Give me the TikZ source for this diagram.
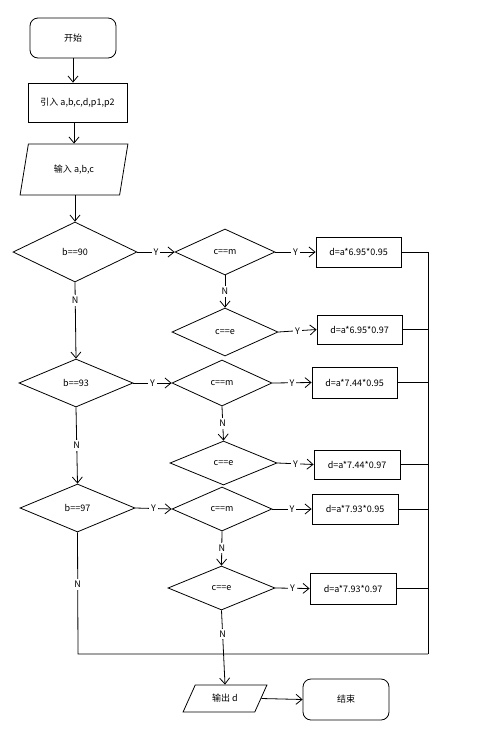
\documentclass[tikz,border=0pt]{standalone}
\usepackage{fontspec}
\setmainfont{Noto Sans CJK SC}
\usetikzlibrary{shapes.geometric,arrows.meta}
\begin{document}
\begin{tikzpicture}[x=1pt,y=-1pt,
  every node/.style={font=\fontsize{9}{11}\selectfont, inner sep=0pt},
  line/.style={draw=black, line width=0.8pt},
  arr/.style={line, -{Straight Barb[length=6pt,width=10pt,line width=0.8pt]}},
  term/.style={line, rounded corners=8pt, minimum width=#1, minimum height=40pt},
  proc/.style={line, rectangle, minimum width=#1, minimum height=30pt},
  dec/.style={line, diamond, aspect=2},
  io/.style={line, trapezium, trapezium stretches=true},
  lab/.style={fill=white, inner sep=2pt}
]
\useasboundingbox (0,0) rectangle (478,732);

% start and init
\node[term=86pt] (start) at (73,38) {开始};
\node[proc=99pt, minimum height=39pt] (init) at (77.5,102.5) {引入 a,b,c,d,p1,p2};
\node[io, trapezium left angle=68.6, trapezium right angle=111.4,
      minimum width=108pt, minimum height=51pt] (in) at (74,169.5) {输入 a,b,c};

% b decisions
\node[dec, minimum width=124pt, minimum height=60pt] (b90) at (75,252) {b==90};
\node[dec, minimum width=114pt, minimum height=48pt] (b93) at (76,383) {b==93};
\node[dec, minimum width=115pt, minimum height=48pt] (b97) at (77.5,508) {b==97};

% c decisions
\node[dec, minimum width=100pt, minimum height=46pt] (cm1) at (225,252) {c==m};
\node[dec, minimum width=106pt, minimum height=48pt] (ce1) at (225,332) {c==e};
\node[dec, minimum width=100pt, minimum height=46pt] (cm2) at (222,383) {c==m};
\node[dec, minimum width=107pt, minimum height=44pt] (ce2) at (223.5,463) {c==e};
\node[dec, minimum width=100pt, minimum height=44pt] (cm3) at (222,509) {c==m};
\node[dec, minimum width=107pt, minimum height=44pt] (ce3) at (221.5,588) {c==e};

% result boxes
\node[proc=85pt] (r1) at (358.5,252) {d=a*6.95*0.95};
\node[proc=85pt, minimum height=29pt] (r2) at (359.5,329.5) {d=a*6.95*0.97};
\node[proc=85pt, minimum height=31pt] (r3) at (354.5,382.5) {d=a*7.44*0.95};
\node[proc=86pt, minimum height=29pt] (r4) at (357,464.5) {d=a*7.44*0.97};
\node[proc=86pt] (r5) at (355,509) {d=a*7.93*0.95};
\node[proc=86pt, minimum height=31pt] (r6) at (353,588.5) {d=a*7.93*0.97};

% output and end
\node[io, trapezium left angle=57.8, trapezium right angle=122.2,
      minimum width=84pt, minimum height=27pt] (out) at (225,698.5) {输出 d};
\node[term=86pt, minimum height=41pt] (end) at (346,699.5) {结束};

% collecting lines
\coordinate (jl) at (78,654);
\coordinate (jr) at (428,654);

% main flow
\draw[arr] (start) -- (start|-init.north);
\draw[arr] (init.south-|in) -- (in.north-|in.center);
\draw[arr] (in.south-|b90) -- (b90.north);

\draw[arr] (b90.south) -- node[lab, pos=0.24]{N} (b93.north);
\draw[arr] (b93.south) -- node[lab, pos=0.5]{N} (b97.north);
\draw[line] (b97.south) -- node[lab, pos=0.43]{N} (jl) -- (jr);

\draw[arr] (b90.east) -- node[lab]{Y} (cm1.west);
\draw[arr] (b93.east) -- node[lab]{Y} (cm2.west);
\draw[arr] (b97.east) -- node[lab]{Y} (cm3.west);

\draw[arr] (cm1.south) -- node[lab]{N} (ce1.north);
\draw[arr] (cm2.south) -- node[lab]{N} (ce2.north);
\draw[arr] (cm3.south) -- node[lab, pos=0.48]{N} (ce3.north);
\draw[arr] (ce3.south) -- node[lab, pos=0.32]{N} (out.north);

\draw[arr] (cm1.east) -- node[lab]{Y} (r1.west);
\draw[arr] (ce1.east) -- node[lab]{Y} (r2.west);
\draw[arr] (cm2.east) -- node[lab]{Y} (r3.west);
\draw[arr] (ce2.east) -- node[lab]{Y} (r4.west);
\draw[arr] (cm3.east) -- node[lab]{Y} (r5.west);
\draw[arr] (ce3.east) -- node[lab]{Y} (r6.west);

\draw[line] (r1.east) -- (r1.east-|jr);
\draw[line] (r2.east) -- (r2.east-|jr);
\draw[line] (r3.east) -- (r3.east-|jr);
\draw[line] (r4.east) -- (r4.east-|jr);
\draw[line] (r5.east) -- (r5.east-|jr);
\draw[line] (r6.east) -- (r6.east-|jr);
\draw[line] (r1.east-|jr) -- (jr);

\draw[arr] (out.east) -- (end.west);
\end{tikzpicture}
\end{document}
